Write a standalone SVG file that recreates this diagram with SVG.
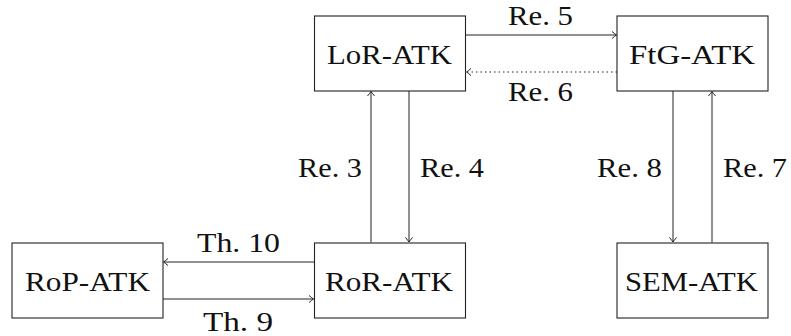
<svg xmlns="http://www.w3.org/2000/svg" width="791" height="336" viewBox="0 0 791 336">
<style>
.box{fill:#fff;stroke:#222;stroke-width:1.1}
.lbl{font-family:"Liberation Serif","DejaVu Serif",serif;font-size:28px;fill:#111}
.c{fill:none;stroke:#222;stroke-width:1}
.d{stroke-dasharray:1.5 3}
</style>
<defs>
<marker id="ah" markerUnits="userSpaceOnUse" viewBox="-6 -5 8 10" markerWidth="8" markerHeight="10" refX="0" refY="0" orient="auto">
<path d="M-4.5,-3.5 Q-1.5,-1 0,0 Q-1.5,1 -4.5,3.5" fill="none" stroke="#222" stroke-width="1"/>
</marker>
</defs>
<rect width="791" height="336" fill="#fff"/>
<g id="connectors">
<line class="c" x1="466" y1="35" x2="616.5" y2="35" marker-end="url(#ah)"/>
<line class="c d" x1="617" y1="72" x2="466.5" y2="72" marker-end="url(#ah)"/>
<line class="c" x1="371" y1="242.5" x2="371" y2="91.5" marker-end="url(#ah)"/>
<line class="c" x1="409" y1="91" x2="409" y2="242" marker-end="url(#ah)"/>
<line class="c" x1="673" y1="91" x2="673" y2="242" marker-end="url(#ah)"/>
<line class="c" x1="712" y1="242.5" x2="712" y2="91.5" marker-end="url(#ah)"/>
<line class="c" x1="314" y1="262" x2="163.5" y2="262" marker-end="url(#ah)"/>
<line class="c" x1="163" y1="299" x2="313.5" y2="299" marker-end="url(#ah)"/>
<text class="lbl" x="508" y="25" textLength="65" lengthAdjust="spacingAndGlyphs">Re. 5</text>
<text class="lbl" x="508" y="101" textLength="65" lengthAdjust="spacingAndGlyphs">Re. 6</text>
<text class="lbl" x="298" y="177" textLength="64" lengthAdjust="spacingAndGlyphs">Re. 3</text>
<text class="lbl" x="420" y="177" textLength="64" lengthAdjust="spacingAndGlyphs">Re. 4</text>
<text class="lbl" x="597" y="177" textLength="65" lengthAdjust="spacingAndGlyphs">Re. 8</text>
<text class="lbl" x="723" y="177" textLength="64" lengthAdjust="spacingAndGlyphs">Re. 7</text>
<text class="lbl" x="197" y="252" textLength="83" lengthAdjust="spacingAndGlyphs">Th. 10</text>
<text class="lbl" x="203" y="331" textLength="70" lengthAdjust="spacingAndGlyphs">Th. 9</text>
</g>
<g id="LoR-ATK">
<rect class="box" x="314.5" y="16" width="151" height="75"/>
<text class="lbl" x="327" y="64" textLength="125" lengthAdjust="spacingAndGlyphs">LoR-ATK</text>
</g>
<g id="FtG-ATK">
<rect class="box" x="617" y="16" width="151" height="75"/>
<text class="lbl" x="629" y="64" textLength="126" lengthAdjust="spacingAndGlyphs">FtG-ATK</text>
</g>
<g id="RoP-ATK">
<rect class="box" x="12" y="243" width="151" height="75"/>
<text class="lbl" x="25" y="291" textLength="125" lengthAdjust="spacingAndGlyphs">RoP-ATK</text>
</g>
<g id="RoR-ATK">
<rect class="box" x="314.5" y="243" width="151" height="75"/>
<text class="lbl" x="325" y="291" textLength="128" lengthAdjust="spacingAndGlyphs">RoR-ATK</text>
</g>
<g id="SEM-ATK">
<rect class="box" x="617" y="243" width="151" height="75"/>
<text class="lbl" x="625" y="291" textLength="133" lengthAdjust="spacingAndGlyphs">SEM-ATK</text>
</g>
</svg>
